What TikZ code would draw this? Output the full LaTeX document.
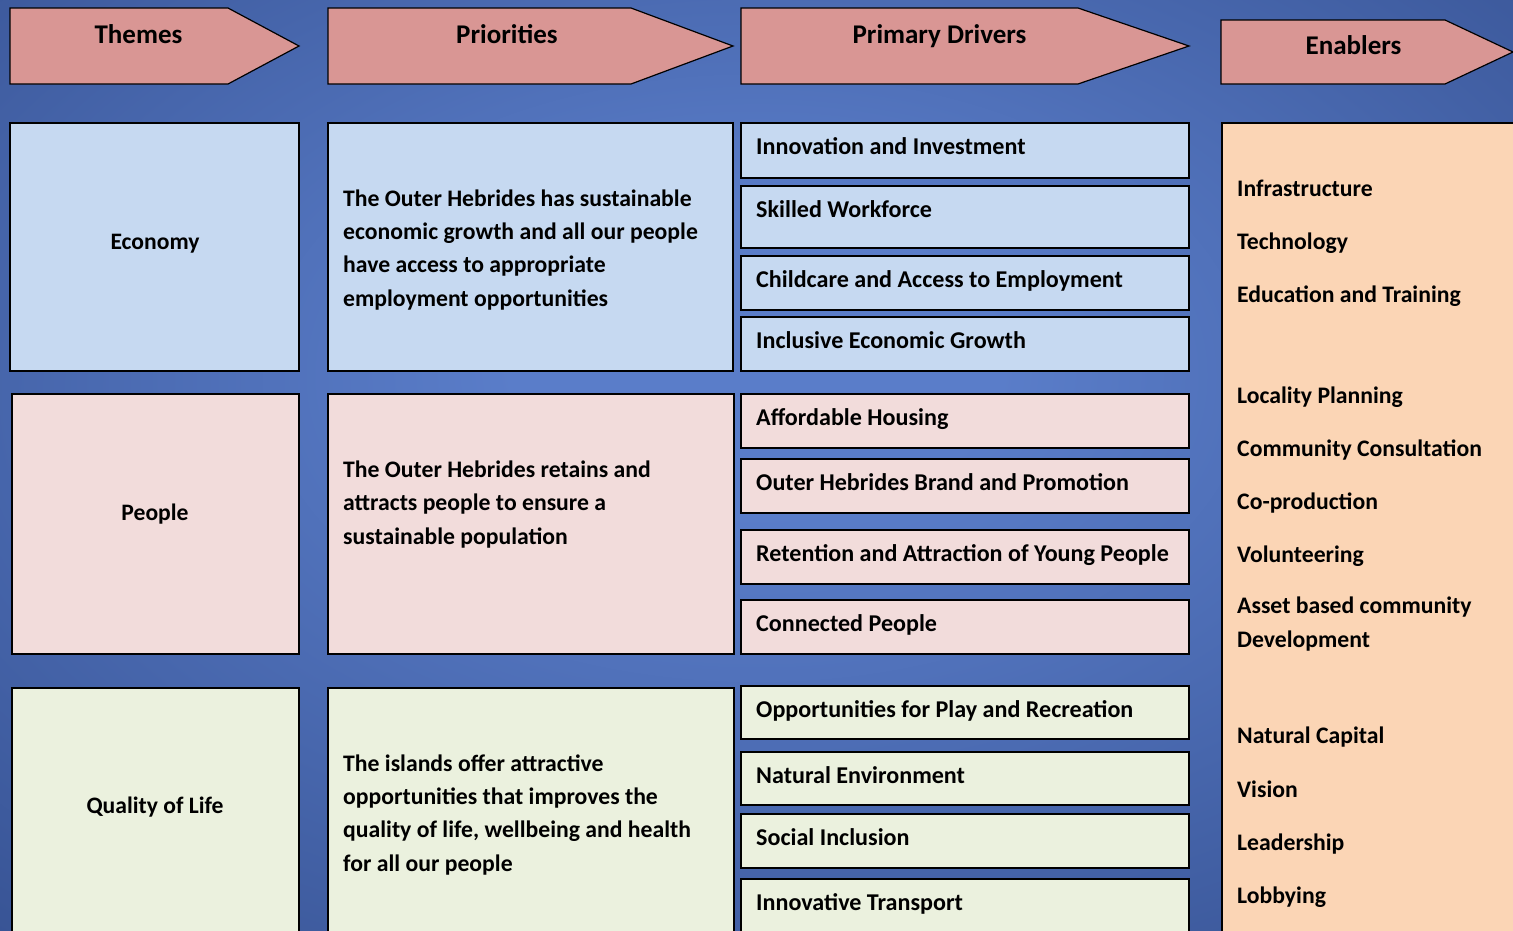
\documentclass[tikz,border=0pt]{standalone}
\usepackage{fontspec}
\setmainfont{Carlito}
\usepackage{tikz}
\usetikzlibrary{positioning}
\usepackage{xcolor}
\definecolor{ohhead}{RGB}{217,150,148}
\definecolor{ohblue}{RGB}{198,217,241}
\definecolor{ohpink}{RGB}{242,220,219}
\definecolor{ohgreen}{RGB}{235,241,222}
\definecolor{ohpeach}{RGB}{251,213,181}
\definecolor{ohbglight}{RGB}{90,125,201}
\definecolor{ohbgdark}{RGB}{33,56,114}
\pgfdeclareradialshading{ohbackdrop}{\pgfpoint{0bp}{6bp}}{color(0bp)=(ohbglight); color(8bp)=(ohbglight); color(58bp)=(ohbgdark); color(75bp)=(ohbgdark)}
\tikzstyle{headarrow} = [draw=black, line width=1.2pt, fill=ohhead]
\tikzstyle{panel} = [draw=black, line width=1.2pt]
\tikzstyle{headtext} = [inner sep=0pt, anchor=base, font=\bfseries\fontsize{27}{32}\selectfont]
\tikzstyle{themetext} = [inner sep=0pt, anchor=base, font=\bfseries\fontsize{23.6}{33.3}\selectfont]
\tikzstyle{listtext} = [inner sep=0pt, anchor=base west, align=left, font=\bfseries\fontsize{23.7}{33.3}\selectfont]
\tikzstyle{drivetext} = [listtext, font=\bfseries\fontsize{24.1}{33.3}\selectfont]

\begin{document}
\begin{tikzpicture}[x=1pt, y=-1pt]
\useasboundingbox (0,0) rectangle (1513,930);
\clip (0,0) rectangle (1513,930);
% Backdrop
\shade[shading=ohbackdrop] (0,0) rectangle (1513,930);

% Header arrows
\draw[headarrow] (10,8) -- (228,8) -- (299,46) -- (228,84) -- (10,84) -- cycle;
\draw[headarrow] (328,8) -- (631,8) -- (733,46) -- (631,84) -- (328,84) -- cycle;
\draw[headarrow] (741,8) -- (1078,8) -- (1189,46) -- (1078,84) -- (741,84) -- cycle;
\draw[headarrow] (1221,20) -- (1445,20) -- (1513,52) -- (1445,84) -- (1221,84) -- cycle;
\node[headtext] (themes) at (138.5,43) {Themes};
\node[headtext] (priorities) at (507,43) {Priorities};
\node[headtext] (drivers) at (939.5,43) {Primary Drivers};
\node[headtext] (enablers) at (1353.5,54) {Enablers};

% Economy row
\draw[panel, fill=ohblue] (10,123) rectangle (299,371);
\draw[panel, fill=ohblue] (328,123) rectangle (733,371);
\draw[panel, fill=ohblue] (741,123) rectangle (1189,178);
\draw[panel, fill=ohblue] (741,186) rectangle (1189,248);
\draw[panel, fill=ohblue] (741,256) rectangle (1189,310);
\draw[panel, fill=ohblue] (741,317) rectangle (1189,371);
\node[themetext] (economy) at (155,249) {Economy};
\node[listtext] (aimeconomy) at (343,306) {The Outer Hebrides has sustainable\\economic growth and all our people\\have access to appropriate\\employment opportunities};
\node[drivetext] (innovation) at (756,154) {Innovation and Investment};
\node[drivetext] (skilled) at (756,217) {Skilled Workforce};
\node[drivetext] (childcare) at (756,287) {Childcare and Access to Employment};
\node[drivetext] (inclusive) at (756,348) {Inclusive Economic Growth};

% People row
\draw[panel, fill=ohpink] (12,394) rectangle (299,654);
\draw[panel, fill=ohpink] (328,394) rectangle (734,654);
\draw[panel, fill=ohpink] (741,394) rectangle (1189,448);
\draw[panel, fill=ohpink] (741,459) rectangle (1189,513);
\draw[panel, fill=ohpink] (741,530) rectangle (1189,584);
\draw[panel, fill=ohpink] (741,600) rectangle (1189,654);
\node[themetext] (people) at (155,520) {People};
\node[listtext] (aimpeople) at (343,544) {The Outer Hebrides retains and\\attracts people to ensure a\\sustainable population};
\node[drivetext] (housing) at (756,425) {Affordable Housing};
\node[drivetext] (brand) at (756,490) {Outer Hebrides Brand and Promotion};
\node[drivetext] (retention) at (756,561) {Retention and Attraction of Young People};
\node[drivetext] (connected) at (756,631) {Connected People};

% Quality of life row
\draw[panel, fill=ohgreen] (12,688) rectangle (299,940);
\draw[panel, fill=ohgreen] (328,688) rectangle (734,940);
\draw[panel, fill=ohgreen] (741,686) rectangle (1189,739);
\draw[panel, fill=ohgreen] (741,752) rectangle (1189,805);
\draw[panel, fill=ohgreen] (741,814) rectangle (1189,868);
\draw[panel, fill=ohgreen] (741,879) rectangle (1189,940);
\node[themetext] (quality) at (155,813) {Quality of Life};
\node[listtext] (aimquality) at (343,871) {The islands offer attractive\\opportunities that improves the\\quality of life, wellbeing and health\\for all our people};
\node[drivetext] (play) at (756,717) {Opportunities for Play and Recreation};
\node[drivetext] (natural) at (756,783) {Natural Environment};
\node[drivetext] (social) at (756,845) {Social Inclusion};
\node[drivetext] (transport) at (756,910) {Innovative Transport};

% Enablers column
\draw[panel, fill=ohpeach] (1222,123) rectangle (1530,940);
\node[listtext] (infra) at (1237,196) {Infrastructure};
\node[listtext] (tech) at (1237,249) {Technology};
\node[listtext] (education) at (1237,302) {Education and Training};
\node[listtext] (locality) at (1237,403) {Locality Planning};
\node[listtext] (consult) at (1237,456) {Community Consultation};
\node[listtext] (coprod) at (1237,509) {Co-production};
\node[listtext] (volunteer) at (1237,562) {Volunteering};
\node[listtext] (asset) at (1237,647) {Asset based community\\Development};
\node[listtext] (capital) at (1237,743) {Natural Capital};
\node[listtext] (vision) at (1237,797) {Vision};
\node[listtext] (leader) at (1237,850) {Leadership};
\node[listtext] (lobby) at (1237,903) {Lobbying};
\end{tikzpicture}
\end{document}
